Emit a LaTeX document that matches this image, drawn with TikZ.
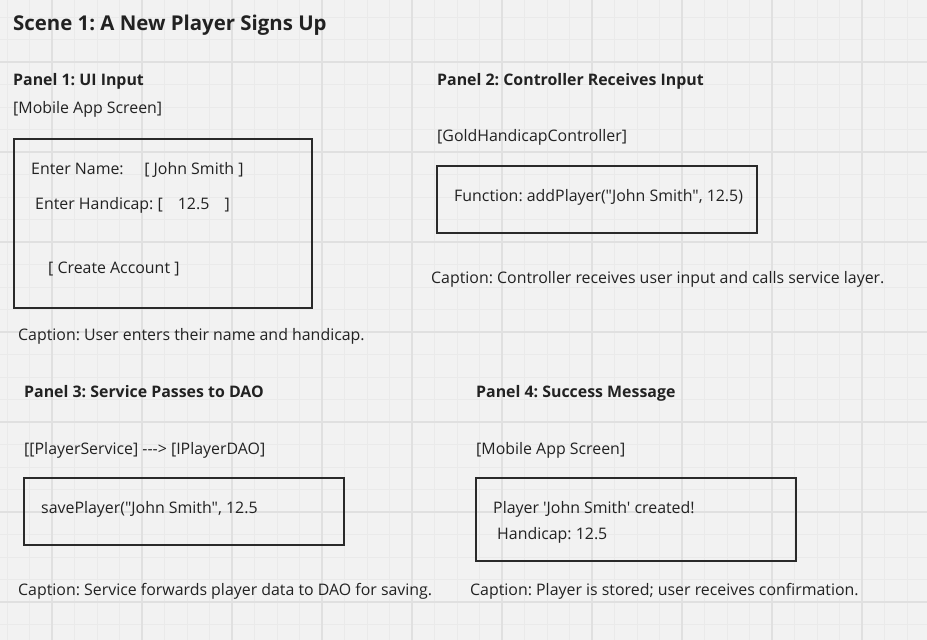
\documentclass[tikz,border=0pt]{standalone}
\usepackage{fontspec}
\newfontfamily\uifont{Open Sans}
\frenchspacing
\begin{document}
\begin{tikzpicture}[x=1pt,y=-1pt,
  txt/.style={anchor=west,inner sep=0pt,text height=1.07em,text depth=0pt,
    text=ink,font=\uifont\fontsize{15.9}{19}\selectfont},
  head/.style={txt,font=\uifont\bfseries\fontsize{15.9}{19}\selectfont},
  title/.style={txt,font=\uifont\bfseries\fontsize{20.4}{25}\selectfont},
  screen/.style={draw=frame,line width=2.2pt}]
\definecolor{bg}{HTML}{F2F2F2}
\definecolor{minorgrid}{HTML}{EAEAEA}
\definecolor{majorgrid}{HTML}{E0E0E0}
\definecolor{ink}{HTML}{222222}
\definecolor{frame}{HTML}{2A2A2A}
% canvas and grid
\fill[bg] (0,0) rectangle (927,640);
\useasboundingbox (0,0) rectangle (927,640);
\foreach \gx in {0,...,41} \draw[minorgrid,line width=0.8pt] (7+22.5*\gx,0) -- (7+22.5*\gx,640);
\foreach \gy in {0,...,28} \draw[minorgrid,line width=0.8pt] (0,17+22.5*\gy) -- (927,17+22.5*\gy);
\foreach \gx in {0,...,9} \draw[majorgrid,line width=1.2pt] (52+90*\gx,0) -- (52+90*\gx,640);
\foreach \gy in {0,...,6} \draw[majorgrid,line width=1.2pt] (0,62+90*\gy) -- (927,62+90*\gy);

\node[title] (title) at (13,25) {Scene 1: A New Player Signs Up};

% panel 1
\node[head] (h1) at (13,80) {Panel 1: UI Input};
\node[txt] (s1) at (13,108) {[Mobile App Screen]};
\draw[screen] (14,139) rectangle (312,308);
\node[txt] (name) at (31,169) {Enter Name:\hspace{1.3em}[ John Smith ]};
\node[txt] (hcp) at (35,204) {Enter Handicap: [\hspace{0.95em}12.5\hspace{0.95em}]};
\node[txt] (btn) at (48,268) {[ Create Account ]};
\node[txt] (c1) at (18,335) {Caption: User enters their name and handicap.};

% panel 2
\node[head] (h2) at (437,80) {Panel 2: Controller Receives Input};
\node[txt] (s2) at (437,136) {[GoldHandicapController]};
\draw[screen] (437,166) rectangle (757,233);
\node[txt] (fn) at (454,196) {Function: addPlayer("John Smith", 12.5)};
\node[txt] (c2) at (431,278) {Caption: Controller receives user input and calls service layer.};

% panel 3
\node[head] (h3) at (24,392) {Panel 3: Service Passes to DAO};
\node[txt] (s3) at (24,449) {[[PlayerService] ---> [IPlayerDAO]};
\draw[screen] (24,478) rectangle (344,545);
\node[txt] (save) at (41,508) {savePlayer("John Smith", 12.5};
\node[txt] (c3) at (18,590) {Caption: Service forwards player data to DAO for saving.};

% panel 4
\node[head] (h4) at (476,392) {Panel 4: Success Message};
\node[txt] (s4) at (476,449) {[Mobile App Screen]};
\draw[screen] (476,478) rectangle (796,561);
\node[txt] (ok) at (493,508) {Player 'John Smith' created!};
\node[txt] (ok2) at (497,534) {Handicap: 12.5};
\node[txt] (c4) at (470,590) {Caption: Player is stored; user receives confirmation.};
\end{tikzpicture}
\end{document}
